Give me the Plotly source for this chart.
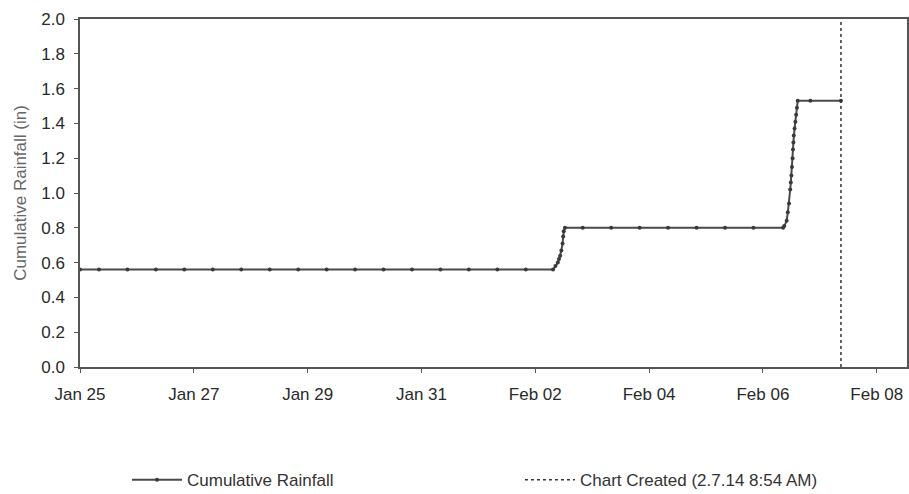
import plotly.graph_objects as go

# Cumulative rainfall series (timestamps and values)
times = [
    "2014-01-25 00:00", "2014-01-25 08:00", "2014-01-25 20:00", "2014-01-26 08:00", "2014-01-26 20:00",
    "2014-01-27 08:00", "2014-01-27 20:00", "2014-01-28 08:00", "2014-01-28 20:00",
    "2014-01-29 08:00", "2014-01-29 20:00", "2014-01-30 08:00", "2014-01-30 20:00",
    "2014-01-31 08:00", "2014-01-31 20:00", "2014-02-01 08:00", "2014-02-01 20:00",
    "2014-02-02 07:30", "2014-02-02 08:30", "2014-02-02 09:30", "2014-02-02 10:00",
    "2014-02-02 10:30", "2014-02-02 11:00", "2014-02-02 11:30", "2014-02-02 11:45",
    "2014-02-02 12:00", "2014-02-02 12:30",
    "2014-02-02 20:00", "2014-02-03 08:00", "2014-02-03 20:00", "2014-02-04 08:00",
    "2014-02-04 20:00", "2014-02-05 08:00", "2014-02-05 20:00", "2014-02-06 08:30",
    "2014-02-06 09:00", "2014-02-06 10:00", "2014-02-06 10:30", "2014-02-06 11:00",
    "2014-02-06 11:30", "2014-02-06 11:45", "2014-02-06 12:00", "2014-02-06 12:15",
    "2014-02-06 12:30", "2014-02-06 12:40", "2014-02-06 12:50", "2014-02-06 13:00",
    "2014-02-06 13:20", "2014-02-06 13:40", "2014-02-06 14:00", "2014-02-06 14:20",
    "2014-02-06 14:40", "2014-02-06 20:00", "2014-02-07 08:54",
]
rainfall = [
    0.56, 0.56, 0.56, 0.56, 0.56,
    0.56, 0.56, 0.56, 0.56,
    0.56, 0.56, 0.56, 0.56,
    0.56, 0.56, 0.56, 0.56,
    0.56, 0.58, 0.60, 0.62,
    0.64, 0.67, 0.71, 0.75,
    0.78, 0.80,
    0.80, 0.80, 0.80, 0.80,
    0.80, 0.80, 0.80, 0.80,
    0.81, 0.84, 0.89, 0.94,
    1.02, 1.06, 1.10, 1.15,
    1.20, 1.25, 1.29, 1.33,
    1.37, 1.41, 1.45, 1.49,
    1.53, 1.53, 1.53,
]

chart_created = "2014-02-07 08:54"
y_range = [0.0, 2.0]
x_range = ["2014-01-25 00:00", "2014-02-08 12:45"]
x_ticks = ["2014-01-25", "2014-01-27", "2014-01-29", "2014-01-31",
           "2014-02-02", "2014-02-04", "2014-02-06", "2014-02-08"]
x_tick_labels = ["Jan 25", "Jan 27", "Jan 29", "Jan 31",
                 "Feb 02", "Feb 04", "Feb 06", "Feb 08"]
y_ticks = [0.0, 0.2, 0.4, 0.6, 0.8, 1.0, 1.2, 1.4, 1.6, 1.8, 2.0]

font_family = "Liberation Sans, Arial, sans-serif"

fig = go.Figure()
fig.add_trace(go.Scatter(
    x=times, y=rainfall, mode="lines+markers",
    name="Cumulative Rainfall", legend="legend",
    line=dict(color="#4a4a4a", width=2),
    marker=dict(color="#3a3a3a", size=4, symbol="circle"),
))
fig.add_trace(go.Scatter(
    x=[chart_created, chart_created], y=y_range, mode="lines",
    name="Chart Created (2.7.14 8:54 AM)", legend="legend2",
    line=dict(color="#333333", width=1.5, dash="dot"),
))

legend_common = dict(
    orientation="h", yanchor="middle", xanchor="left",
    xref="container", yref="container",
    font=dict(size=17, color="#333333"), bgcolor="rgba(0,0,0,0)",
    itemwidth=50,
)

fig.update_layout(
    width=909, height=494,
    margin=dict(l=80, r=2, t=19, b=127),
    paper_bgcolor="white", plot_bgcolor="white",
    font=dict(family=font_family, size=17, color="#333333"),
    showlegend=True,
    legend=dict(x=0.1397, y=0.028, **legend_common),
    legend2=dict(x=0.572, y=0.028, **legend_common),
    xaxis=dict(
        type="date", range=x_range, automargin=False,
        tickvals=x_ticks, ticktext=x_tick_labels,
        showgrid=False, zeroline=False,
        showline=True, mirror=True, linecolor="#555555", linewidth=1.5,
        ticks="outside", ticklen=4, tickcolor="#555555",
        ticklabelstandoff=7,
        tickfont=dict(size=17, color="#2a2a2a"),
    ),
    yaxis=dict(
        range=y_range, tickvals=y_ticks, tickformat=".1f", automargin=False,
        showgrid=False, zeroline=False,
        showline=True, mirror=True, linecolor="#555555", linewidth=1.5,
        ticks="outside", ticklen=4, tickcolor="#555555",
        ticklabelstandoff=6,
        tickfont=dict(size=17, color="#2a2a2a"),
        title=dict(text="Cumulative Rainfall (in)", font=dict(size=17, color="#666666"), standoff=10),
    ),
)

fig.write_html("out.html", config={"displayModeBar": False},
               post_script="document.body.style.margin='0';")
